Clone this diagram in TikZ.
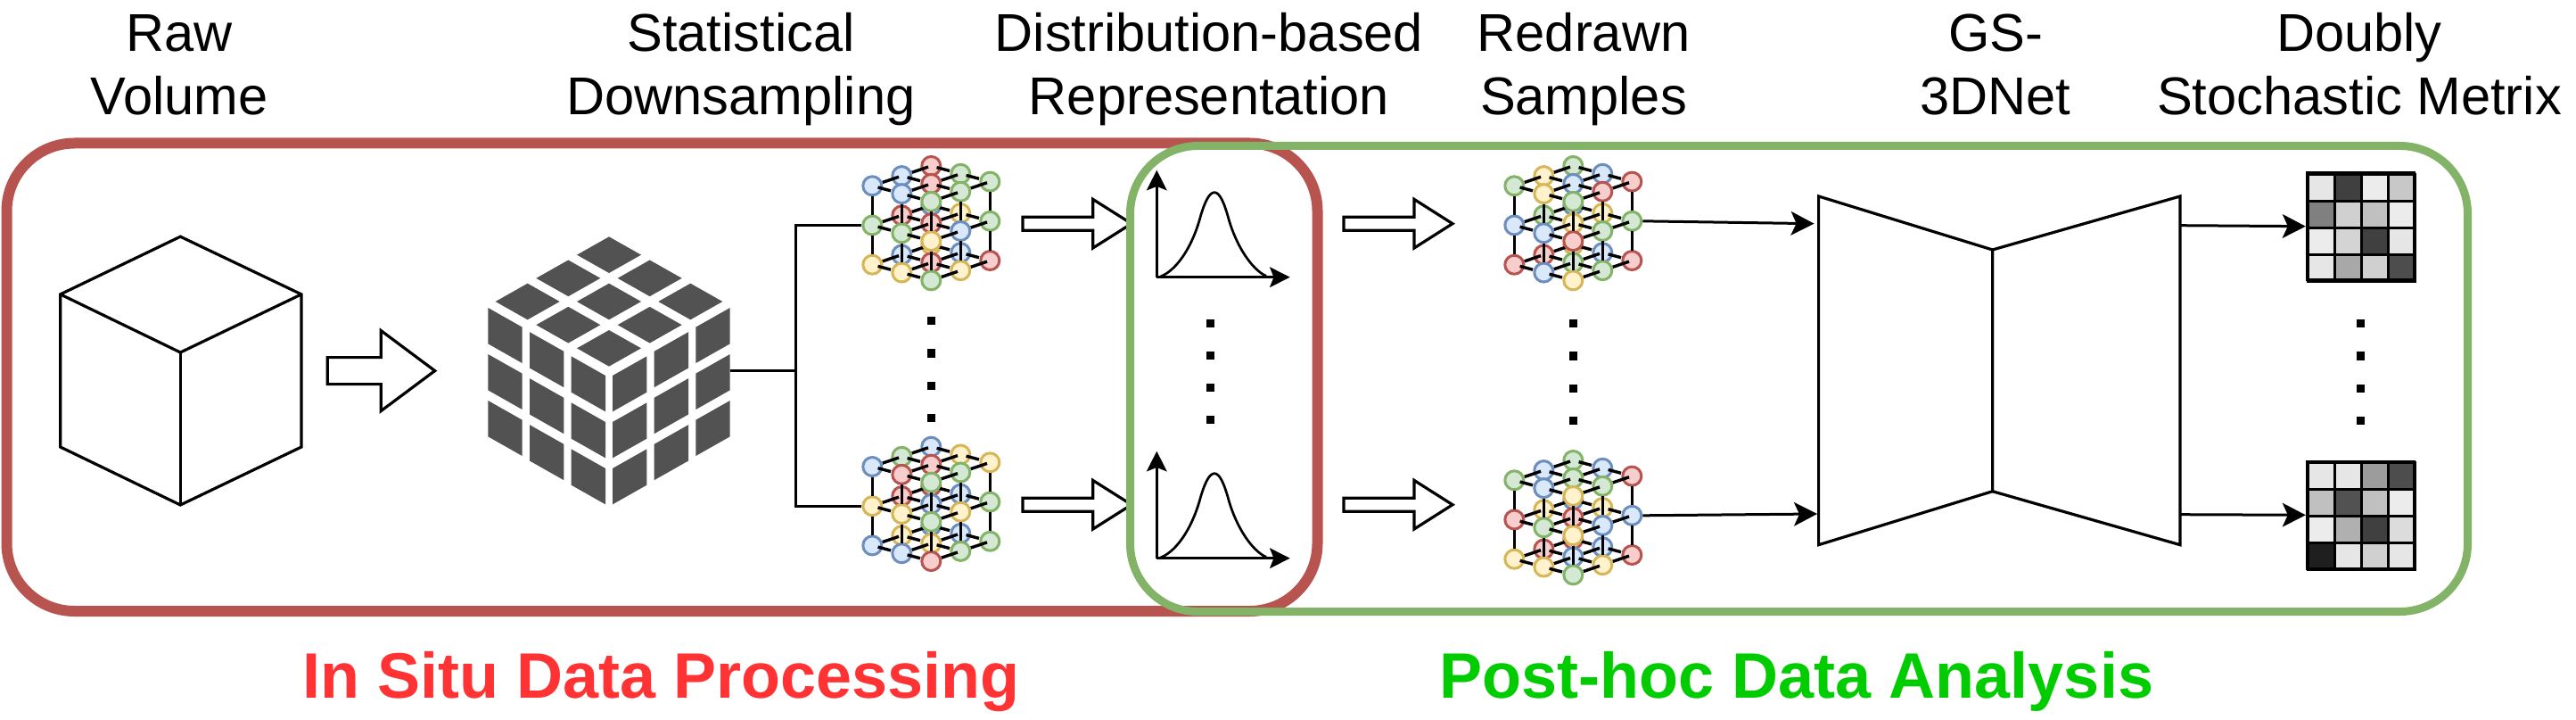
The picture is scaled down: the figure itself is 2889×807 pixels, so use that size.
\documentclass[tikz,border=0pt]{standalone}
\usepackage{fontspec}
\setmainfont{Liberation Sans}
\usetikzlibrary{arrows.meta}
\definecolor{bF}{HTML}{DAE8FC}\definecolor{bD}{HTML}{6C8EBF}
\definecolor{gF}{HTML}{D5E8D4}\definecolor{gD}{HTML}{82B366}
\definecolor{rF}{HTML}{F8CECC}\definecolor{rD}{HTML}{B85450}
\definecolor{yF}{HTML}{FFF2CC}\definecolor{yD}{HTML}{D6B656}
\definecolor{rubik}{HTML}{525252}
\tikzset{
  latnode/.style={circle,inner sep=0pt,minimum size=10.5pt,line width=1.5pt},
  latB/.style={latnode,fill=bF,draw=bD},
  latG/.style={latnode,fill=gF,draw=gD},
  latR/.style={latnode,fill=rF,draw=rD},
  latY/.style={latnode,fill=yF,draw=yD},
  latedge/.style={line width=1.7pt},
  outline/.style={line width=1.6pt,line join=miter},
  block/.style={line width=1.6pt,fill=white,draw=black,miter limit=10},
  conn/.style={line width=1.5pt},
  connarrow/.style={line width=1.5pt,-{Stealth[length=13pt,width=13.3pt,inset=3pt]}},
  axisline/.style={line width=1.6pt,-{Stealth[length=11.3pt,width=11.3pt,inset=2.2pt]}},
  gausscurve/.style={line width=1.35pt},
  headlabel/.style={align=center,inner sep=0pt,anchor=north,font=\fontsize{29.8}{35.65}\selectfont},
  footlabel/.style={inner sep=0pt,anchor=base,font=\fontsize{36}{40}\selectfont\bfseries},
  groupbox/.style={rounded corners=38pt},
  cellnode/.style={draw=black,line width=1.5pt,inner sep=0pt,minimum size=15pt,anchor=north west},
  matrixframe/.style={draw=black,line width=1.5pt,inner sep=0pt,minimum size=60pt}
}
% name, x, y, colour list (k; j; i)
\newcommand{\latticecube}[4]{%
  \def\collist{#4}%
  \foreach \j in {2,1,0}{\foreach \i in {0,1,2}{\foreach \k in {0,1,2}{%
    \pgfmathsetmacro\lx{#2+33*\i+33*\j}%
    \pgfmathsetmacro\ly{#3+8.83*\i-11.17*\j+44.2*\k}%
    \pgfmathtruncatemacro\idx{9*\k+3*\j+\i}%
    \pgfmathsetmacro\cc{{\collist}[\idx]}%
    \coordinate (#1-\i-\j-\k) at (\lx,\ly);
    \ifnum\i>0
      \pgfmathtruncatemacro\pr{\i-1}%
      \draw[latedge,shorten <=3.25pt,shorten >=6.35pt] (#1-\pr-\j-\k) -- (#1-\i-\j-\k);
    \fi
    \ifnum\j<2
      \pgfmathtruncatemacro\pr{\j+1}%
      \draw[latedge,shorten <=1.75pt,shorten >=6pt] (#1-\i-\pr-\k) -- (#1-\i-\j-\k);
    \fi
    \node[lat\cc] (#1-n-\i-\j-\k) at (#1-\i-\j-\k) {};
    \ifnum\k>0
      \pgfmathtruncatemacro\pr{\k-1}%
      \draw[latedge,shorten <=5.75pt,shorten >=5.75pt] (#1-\i-\j-\pr) -- (#1-\i-\j-\k);
    \fi
  }}}%
}
% tail, head base, tip, y, shaft half, head half
\newcommand{\blockarrow}[6]{%
  \draw[block] (#1,#4-#5) -- (#2,#4-#5) -- (#2,#4-#6) -- (#3,#4) -- (#2,#4+#6) -- (#2,#4+#5) -- (#1,#4+#5) -- cycle;
}
% x, y of first dot
\newcommand{\fourdots}[2]{%
  \foreach \n in {0,1,2,3}{\fill[black] (#1-4.5,#2+36*\n-4.5) rectangle (#1+4.5,#2+36*\n+4.5);}%
}
\newcommand{\gaussplot}[3]{%
  \begin{scope}[shift={(#2,#3)}]
    \coordinate (#1-o) at (0,0);
    \coordinate (#1-ytip) at (0,-120);
    \coordinate (#1-xtip) at (149.4,0);
    \draw[axisline] (#1-o) -- (#1-ytip);
    \draw[axisline] (#1-o) -- (#1-xtip);
    \draw[gausscurve] (4.3,-0.7) .. controls (24.3,-9) and (41,-37.3) .. (49.3,-69)
      .. controls (54.3,-85.7) and (59.3,-95) .. (64.7,-95)
      .. controls (71,-95) and (76,-82.3) .. (81,-64)
      .. controls (89.3,-35.7) and (106,-9) .. (122.7,-1.3);
  \end{scope}
}
% name, centre x, centre y, 16 grey levels
\newcommand{\graymatrix}[4]{%
  \foreach \v [count=\c from 0] in {#4}{%
    \pgfmathtruncatemacro\cx{mod(\c,4)}%
    \pgfmathtruncatemacro\cy{div(\c,4)}%
    \node[cellnode,fill={rgb,255:red,\v;green,\v;blue,\v}] (#1-c\c) at (#2-60+30*\cx,#3-60+30*\cy) {};
  }%
  \node[matrixframe] (#1) at (#2,#3) {};
}
\begin{document}
\begin{tikzpicture}[x=0.5pt,y=-0.5pt]
\useasboundingbox (0,0) rectangle (2889,807);

% group outlines (red first)
\draw[groupbox,draw=rD,line width=6pt] (7.5,160.5) rectangle (1477.5,685);

% headers
\node[headlabel] (hRaw) at (201,6.8) {\rule{0pt}{25pt}Raw\\Volume};
\node[headlabel] (hStat) at (831,6.8) {\rule{0pt}{25pt}Statistical\\Downsampling};
\node[headlabel] (hDist) at (1356,6.8) {\rule{0pt}{25pt}Distribution-based\\Representation};
\node[headlabel] (hRedr) at (1776,6.8) {\rule{0pt}{25pt}Redrawn\\Samples};
\node[headlabel] (hGS) at (2238,6.8) {\rule{0pt}{25pt}GS-\\3DNet};
\node[headlabel] (hDoub) at (2646,6.8) {\rule{0pt}{25pt}Doubly\\Stochastic Metrix};

% raw volume cube
\draw[outline] (202.3,265.2) -- (338,329.9) -- (338,501) -- (202.3,566) -- (67.7,501) -- (67.7,329.9) -- cycle;
\draw[outline] (67.7,329.9) -- (202.3,395) -- (338,329.9);
\draw[outline] (202.3,395) -- (202.3,566);

\blockarrow{367.3}{427.3}{487.7}{415.6}{15}{45}

% rubik cube
\begin{scope}[shift={(500,240)},x=0.16667pt,y=-0.16667pt]
  \foreach \a in {0,1,2}{\foreach \b in {0,1,2}{%
    \pgfmathsetmacro\tx{549+137*\a-137*\b}%
    \pgfmathsetmacro\ty{137+78.5*\a+78.5*\b}%
    \fill[rubik] (\tx-108,\ty) -- (\tx,\ty-61) -- (\tx+108,\ty) -- (\tx,\ty+61) -- cycle;
  }}
  \foreach \c in {0,1,2}{\foreach \r in {0,1,2}{%
    \pgfmathsetmacro\fx{142+140*\c}%
    \pgfmathsetmacro\fy{315+81.5*\c+156*\r}%
    \pgfmathsetmacro\gx{1098-\fx}%
    \fill[rubik] (\fx,\fy) -- (\fx+115,\fy+65) -- (\fx+115,\fy+186) -- (\fx,\fy+121) -- cycle;
    \fill[rubik] (\gx,\fy) -- (\gx-115,\fy+65) -- (\gx-115,\fy+186) -- (\gx,\fy+121) -- cycle;
  }}
\end{scope}
\coordinate (rubikR) at (818.7,415);
\coordinate (split) at (892.7,415);

% lattices
\latticecube{LA}{978.3}{208.3}{"B","B","G","B","R","G","R","G","G","G","G","Y","R","R","B","B","Y","G","Y","Y","G","B","R","Y","Y","B","R"}
\latticecube{LB}{978.3}{523}{"B","R","G","G","R","G","B","Y","Y","Y","Y","G","R","B","Y","R","B","G","B","B","R","Y","Y","G","B","B","G"}
\latticecube{LC}{1698.3}{208.3}{"G","Y","G","Y","B","R","G","B","R","B","B","R","G","Y","G","B","Y","G","R","B","Y","R","G","G","Y","B","R"}
\latticecube{LD}{1698.3}{538.3}{"G","B","Y","B","G","G","G","B","R","R","G","Y","Y","R","B","B","Y","B","Y","Y","G","R","B","Y","R","B","R"}

\draw[conn] (rubikR) -- (split);
\draw[conn] (split) |- (LA-n-0-0-1.west);
\draw[conn] (split) |- (LB-n-0-0-1.west);

\fourdots{1044.3}{360}
\fourdots{1764.3}{363}
\fourdots{1357}{362.7}
\fourdots{2647.3}{363}

% block arrows into and out of the distributions
\blockarrow{1147}{1225.7}{1269}{250.7}{7.5}{27.3}
\blockarrow{1147}{1225.7}{1269}{565.7}{7.5}{27.3}
\blockarrow{1507}{1586}{1629}{250.7}{7.5}{27.3}
\blockarrow{1507}{1586}{1629}{565.7}{7.5}{27.3}

% green outline above the arrows
\draw[groupbox,draw=gD,line width=4.5pt] (1267.5,163.5) rectangle (2767.5,685.5);

% distributions
\gaussplot{GA}{1297.3}{310.7}
\gaussplot{GB}{1297.3}{625.7}

% network
\draw[outline] (2039.6,220) -- (2234.6,280) -- (2234.6,550.7) -- (2039.6,610.7) -- cycle;
\draw[outline] (2445,220) -- (2234.6,280) -- (2234.6,550.7) -- (2445,610.7) -- cycle;
\coordinate (netInA) at (2034.6,250.7);
\coordinate (netInB) at (2038,576);
\coordinate (netOutA) at (2445,252.7);
\coordinate (netOutB) at (2445,576.7);

\graymatrix{matA}{2647.3}{253.7}{230,64,236,200,128,208,192,236,236,212,64,230,230,168,208,77}
\graymatrix{matB}{2647.3}{577.3}{230,230,156,77,192,82,192,236,236,176,64,220,31,230,208,230}

\draw[connarrow] (LC-n-2-2-1.east) -- (netInA);
\draw[connarrow] (LD-n-2-2-1.east) -- (netInB);
\draw[connarrow] (netOutA) -- (matA.west);
\draw[connarrow] (netOutB) -- (matB.west);

% captions
\node[footlabel,text={rgb,255:red,255;green,51;blue,51}] (cInSitu) at (741.6,782.7) {In Situ Data Processing};
\node[footlabel,text={rgb,255:red,0;green,204;blue,0}] (cPost) at (2015,782.7) {Post-hoc Data Analysis};
\end{tikzpicture}
\end{document}
